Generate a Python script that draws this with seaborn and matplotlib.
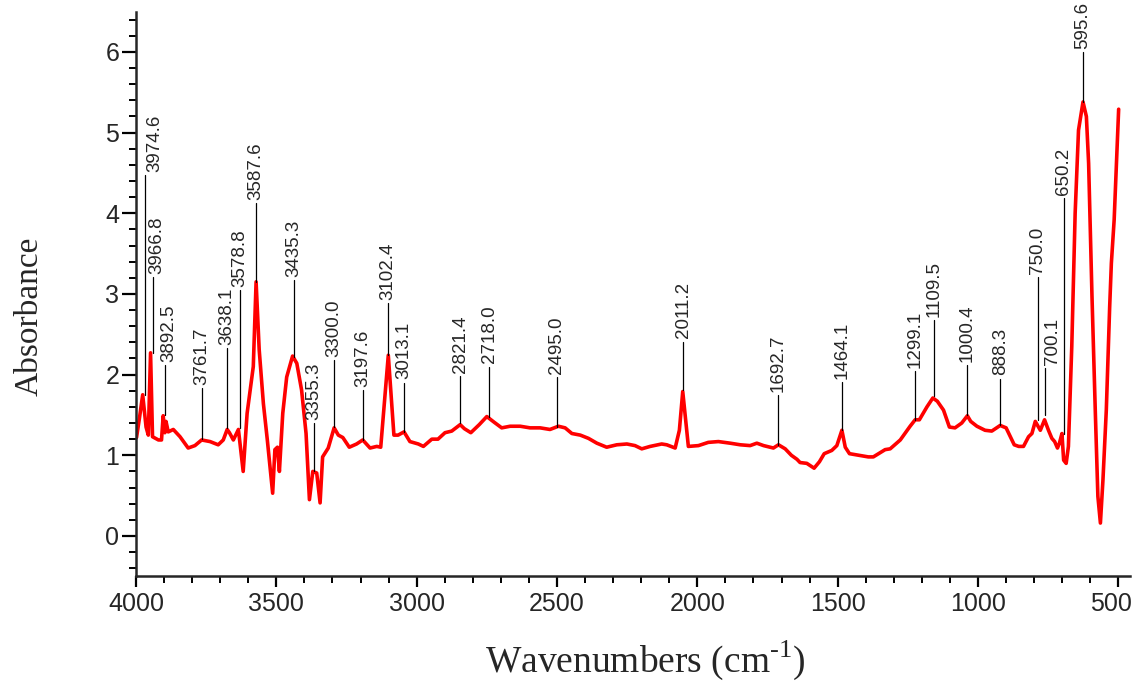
import numpy as np
import pandas as pd
import matplotlib
matplotlib.use("Agg")
import matplotlib.pyplot as plt
from matplotlib.ticker import MultipleLocator
import matplotlib.transforms as mtransforms
import seaborn as sns

# spectrum (wavenumber, absorbance)
wavenumber = [3998, 3988, 3976, 3964, 3956, 3948, 3941, 3920, 3909, 3903, 3897, 3893, 3885,
              3867, 3843, 3814, 3790, 3766, 3736, 3707, 3689, 3675, 3667, 3653, 3635, 3618,
              3604, 3582, 3572, 3561, 3546, 3532, 3513, 3505, 3496, 3489, 3477, 3463, 3442,
              3427, 3410, 3394, 3382, 3370, 3356, 3344, 3335, 3315, 3294, 3279, 3263, 3240,
              3214, 3192, 3166, 3142, 3128, 3101, 3081, 3066, 3045, 3024, 2994, 2976, 2946,
              2924, 2899, 2875, 2845, 2830, 2807, 2777, 2750, 2724, 2697, 2667, 2631, 2596,
              2560, 2525, 2495, 2471, 2447, 2417, 2388, 2358, 2323, 2287, 2251, 2222, 2198,
              2168, 2127, 2109, 2079, 2064, 2052, 2040, 2032, 1996, 1961, 1925, 1883, 1847,
              1812, 1788, 1764, 1729, 1711, 1687, 1665, 1645, 1634, 1610, 1584, 1565, 1548,
              1521, 1503, 1485, 1473, 1458, 1425, 1391, 1373, 1331, 1313, 1277, 1242, 1224,
              1209, 1182, 1161, 1145, 1123, 1102, 1082, 1058, 1038, 1026, 1004, 975, 951,
              921, 900, 871, 855, 838, 820, 808, 796, 778, 763, 749, 737, 727, 717, 710,
              701, 695, 686, 678, 666, 654, 642, 626, 614, 606, 594, 582, 573, 564, 555,
              543, 531, 525, 515, 499]
absorbance = [1.22, 1.45, 1.75, 1.35, 1.25, 2.27, 1.23, 1.19, 1.19, 1.49, 1.28, 1.42, 1.29,
              1.32, 1.23, 1.09, 1.12, 1.19, 1.17, 1.13, 1.19, 1.32, 1.28, 1.19, 1.32, 0.80,
              1.52, 2.10, 3.15, 2.31, 1.64, 1.19, 0.53, 1.07, 1.10, 0.80, 1.52, 1.97, 2.23,
              2.14, 1.81, 1.27, 0.45, 0.80, 0.78, 0.41, 0.98, 1.09, 1.34, 1.25, 1.22, 1.10,
              1.14, 1.19, 1.09, 1.11, 1.10, 2.24, 1.25, 1.25, 1.29, 1.17, 1.14, 1.11, 1.20,
              1.20, 1.28, 1.30, 1.38, 1.33, 1.28, 1.38, 1.48, 1.41, 1.34, 1.36, 1.36, 1.34,
              1.34, 1.32, 1.36, 1.34, 1.27, 1.25, 1.21, 1.15, 1.10, 1.13, 1.14, 1.12, 1.08,
              1.11, 1.14, 1.13, 1.09, 1.31, 1.79, 1.38, 1.11, 1.12, 1.16, 1.17, 1.15, 1.13,
              1.12, 1.15, 1.12, 1.09, 1.13, 1.08, 1.00, 0.95, 0.91, 0.90, 0.84, 0.92, 1.02,
              1.06, 1.12, 1.31, 1.10, 1.02, 1.00, 0.98, 0.98, 1.07, 1.08, 1.19, 1.36, 1.44,
              1.44, 1.60, 1.71, 1.67, 1.56, 1.35, 1.34, 1.40, 1.49, 1.42, 1.36, 1.31, 1.30,
              1.37, 1.34, 1.13, 1.11, 1.11, 1.23, 1.27, 1.42, 1.31, 1.44, 1.31, 1.21, 1.17, 1.09, 1.15,
              1.27, 0.94, 0.90, 1.11, 2.35, 4.00, 5.03, 5.38, 5.20, 4.62, 2.97, 1.52, 0.49, 0.16, 0.69,
              1.56, 2.84, 3.38, 3.92, 5.29]

# peak labels: text, position on the plot, bottom and top of the leader line
peak_labels = ["3974.6", "3966.8", "3892.5", "3761.7", "3638.1", "3578.8", "3587.6", "3435.3",
               "3355.3", "3300.0", "3197.6", "3102.4", "3013.1", "2821.4", "2718.0", "2495.0",
               "2011.2", "1692.7", "1464.1", "1299.1", "1109.5", "1000.4", "888.3", "750.0",
               "700.1", "650.2", "595.6"]
peak_x = [3968, 3940, 3897, 3764, 3675, 3629, 3572, 3436, 3365, 3294, 3190, 3101, 3045,
          2845, 2741, 2501, 2050, 1711, 1485, 1224, 1156, 1040, 921, 788, 760, 695, 626]
line_bottom = [1.75, 2.27, 1.50, 1.20, 1.34, 1.34, 3.15, 2.22, 0.80, 1.35, 1.19, 2.24, 1.29,
               1.40, 1.48, 1.35, 1.81, 1.13, 1.31, 1.44, 1.73, 1.50, 1.38, 1.44, 1.50, 1.27, 5.38]
line_top = [4.47, 3.21, 2.12, 1.83, 2.33, 3.05, 4.13, 3.17, 1.40, 2.18, 1.81, 2.89, 1.90,
            1.98, 2.10, 1.97, 2.41, 1.75, 1.91, 2.04, 2.68, 2.12, 1.95, 3.21, 2.08, 4.19, 6.00]

df = pd.DataFrame({"wn": wavenumber, "A": absorbance})

sns.set_style("ticks")
plt.rcParams["font.family"] = ["Liberation Sans", "DejaVu Sans"]
plt.rcParams["mathtext.fontset"] = "custom"
plt.rcParams["mathtext.rm"] = "Liberation Serif"

fig = plt.figure(figsize=(11.33, 6.82), dpi=100)
ax = fig.add_axes([0.120, 0.155, 0.877, 0.828])

sns.lineplot(data=df, x="wn", y="A", color="red", linewidth=2.6, ax=ax, sort=False)

# some labels sit a little to the right of their leader lines
text_shift = {"3974.6": 7, "3966.8": 3, "3892.5": 3, "700.1": 5}
for lab, x, yb, yt in zip(peak_labels, peak_x, line_bottom, line_top):
    ax.plot([x, x], [yb, yt], color="black", linewidth=0.9)
    tr = ax.transData + mtransforms.ScaledTranslation(text_shift.get(lab, 0) / 72, 0, fig.dpi_scale_trans)
    ax.text(x, yt + 0.04, lab, rotation=90, ha="center", va="bottom", fontsize=13.5, transform=tr)

ax.set_xlim(4000, 460)
ax.set_ylim(-0.5, 6.5)
ax.xaxis.set_major_locator(MultipleLocator(500))
ax.xaxis.set_minor_locator(MultipleLocator(100))
ax.yaxis.set_major_locator(MultipleLocator(1))
ax.yaxis.set_minor_locator(MultipleLocator(0.2))

for s in ["top", "right"]:
    ax.spines[s].set_visible(False)
for s in ["left", "bottom"]:
    ax.spines[s].set_linewidth(1.8)

ax.tick_params(which="major", direction="out", length=8, width=1.6, labelsize=18, color="black")
ax.tick_params(which="minor", direction="out", length=5, width=1.4, color="black")
ax.tick_params(axis="y", which="major", length=10, pad=2)

fig.canvas.draw()
for t, v in zip(ax.get_xticklabels(), ax.get_xticks()):
    if v == 500:
        t.set_transform(t.get_transform() + mtransforms.ScaledTranslation(-5 / 72, 0, fig.dpi_scale_trans))

ax.set_xlabel("Wavenumbers (cm$^{\\text{-1}}$)", family="Liberation Serif", fontsize=27)
ax.xaxis.set_label_coords(0.513, -0.149)
ax.xaxis.label.set_va("center")
ax.set_ylabel("Absorbance", family="Liberation Serif", fontsize=24)
ax.yaxis.set_label_coords(-0.107, 0.461)
ax.yaxis.label.set_va("center")

plt.savefig("out.png", dpi=100)
